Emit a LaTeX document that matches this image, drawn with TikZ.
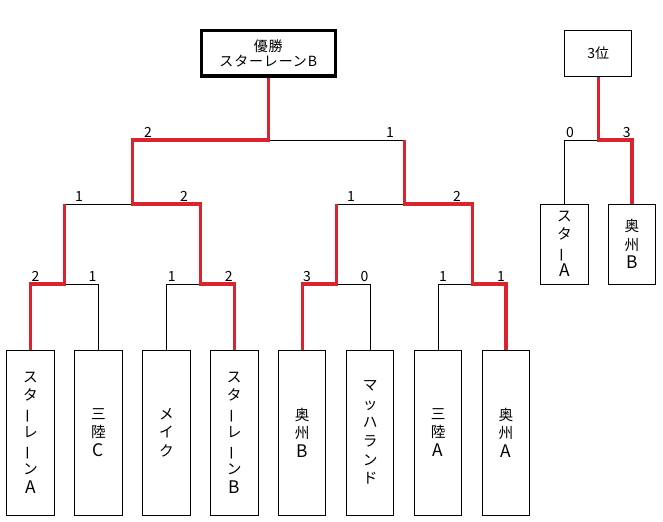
\documentclass[tikz,border=0pt]{standalone}
\usepackage{fontspec}
\setmainfont{Noto Sans CJK JP}
\usepackage{graphicx}
\definecolor{wred}{RGB}{219,35,45}
\newcommand{\vchoon}{\rotatebox[origin=c]{90}{ー}}
\newcommand{\lat}[1]{{\fontsize{13}{13.7}\selectfont #1}}
\begin{document}
\begin{tikzpicture}[x=0.75pt,y=-0.75pt,
  team/.style={draw,line width=0.75pt,minimum width=35.6pt,minimum height=123.75pt,inner sep=0pt,align=center,font=\fontsize{11}{13.9}\selectfont},
  smallteam/.style={team,minimum height=60pt},
  winbox/.style={draw,line width=2.4pt,minimum width=100.5pt,minimum height=34pt,inner sep=0pt,align=center,font=\fontsize{10.5}{11.3}\selectfont\addfontfeature{LetterSpace=6}},
  thirdbox/.style={draw,line width=0.75pt,minimum width=50.5pt,minimum height=34.5pt,inner sep=0pt,font=\fontsize{10.5}{12}\selectfont},
  score/.style={anchor=base,inner sep=0pt,font=\fontsize{10.5}{12}\selectfont},
  bline/.style={line width=0.75pt,black},
  rline/.style={line width=2.3pt,wred,line join=miter}]
\useasboundingbox (0,0) rectangle (663,521);

% levels
\coordinate (L1) at (0,284);
\coordinate (L2) at (0,204);
\coordinate (L3) at (0,140);

% teams
\node[team] (t1) at (30.5,432.5) {ス\\タ\\\vchoon\\レ\\\vchoon\\ン\\\lat{A}};
\node[team] (t2) at (98.4,432.5) {三\\陸\\\lat{C}};
\node[team] (t3) at (166.4,432.5) {メ\\イ\\ク};
\node[team] (t4) at (234.3,432.5) {ス\\タ\\\vchoon\\レ\\\vchoon\\ン\\\lat{B}};
\node[team] (t5) at (302.2,432.5) {奥\\州\\\lat{B}};
\node[team] (t6) at (370.2,432.5) {マ\\ッ\\ハ\\ラ\\ン\\ド};
\node[team] (t7) at (438.1,432.5) {三\\陸\\\lat{A}};
\node[team] (t8) at (506.0,432.5) {奥\\州\\\lat{A}};

\node[winbox] (win) at (268.25,53.3) {優勝\\スターレーンB};
\node[thirdbox] (third) at (598.3,53) {3位};
\node[smallteam] (s1) at (564.5,244) {ス\\タ\\\vchoon\\\lat{A}};
\node[smallteam] (s2) at (632,244) {奥\\州\\\lat{B}};

% junctions
\coordinate (m1) at (64.45,284);
\coordinate (m2) at (200.35,284);
\coordinate (m3) at (336.2,284);
\coordinate (m4) at (472.05,284);
\coordinate (n1) at (132.4,204);
\coordinate (n2) at (404.1,204);

% black bracket
\draw[bline] (t1.north) -- (t1.north |- L1) -- (t2.north |- L1) -- (t2.north);
\draw[bline] (t3.north) -- (t3.north |- L1) -- (t4.north |- L1) -- (t4.north);
\draw[bline] (t5.north) -- (t5.north |- L1) -- (t6.north |- L1) -- (t6.north);
\draw[bline] (t7.north) -- (t7.north |- L1) -- (t8.north |- L1) -- (t8.north);
\draw[bline] (m1 |- L2) -- (m2 |- L2);
\draw[bline] (m3 |- L2) -- (m4 |- L2);
\draw[bline] (n1 |- L3) -- (n2 |- L3);
\draw[bline] (s1.north) -- (s1.north |- L3) -- (s2.north |- L3) -- (s2.north);

% red winners
\draw[rline] (t1.north) -- (t1.north |- L1) -- (m1) -- (m1 |- L2);
\draw[rline] (t4.north) -- (t4.north |- L1) -- (m2) -- (m2 |- L2) -- (n1) -- (n1 |- L3) -- (win.south |- L3) -- (win.south);
\draw[rline] (t5.north) -- (t5.north |- L1) -- (m3) -- (m3 |- L2);
\draw[rline] (t8.north) -- (t8.north |- L1) -- (m4) -- (m4 |- L2) -- (n2) -- (n2 |- L3);
\draw[rline] (s2.north) -- (s2.north |- L3) -- (third.south |- L3) -- (third.south);

% scores
\node[score] (a1) at (148,137.5) {2};
\node[score] (a2) at (390,137.5) {1};
\node[score] (b1) at (79,201.5) {1};
\node[score] (b2) at (184,201.5) {2};
\node[score] (b3) at (351,201.5) {1};
\node[score] (b4) at (457,201.5) {2};
\node[score] (c1) at (35.5,281.5) {2};
\node[score] (c2) at (92.5,281.5) {1};
\node[score] (c3) at (171.7,281.5) {1};
\node[score] (c4) at (228.7,281.5) {2};
\node[score] (c5) at (307,281.5) {3};
\node[score] (c6) at (364.5,281.5) {0};
\node[score] (c7) at (443,281.5) {1};
\node[score] (c8) at (501,281.5) {1};
\node[score] (d1) at (570,137.5) {0};
\node[score] (d2) at (626.7,137.5) {3};
\end{tikzpicture}
\end{document}
